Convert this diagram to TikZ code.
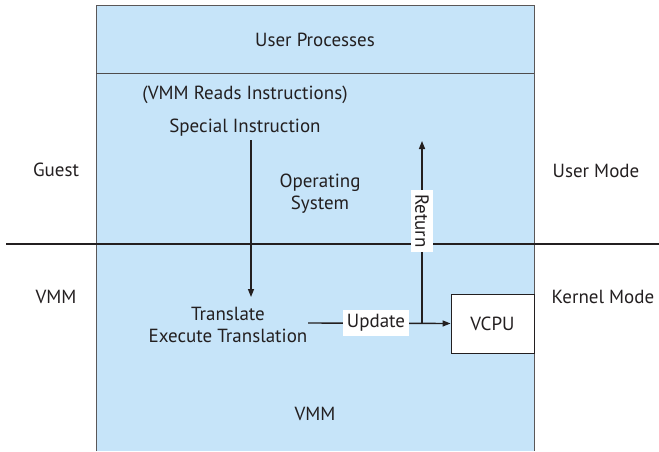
\documentclass[tikz,border=0pt]{standalone}
\usepackage{fontspec}
\setmainfont{PT Sans}
\usetikzlibrary{arrows.meta}
\definecolor{paneblue}{HTML}{C6E4F9}
\definecolor{ink}{HTML}{231F20}
\begin{document}
\begin{tikzpicture}[x=1pt,y=-1pt,
  lbl/.style={font=\fontsize{19}{22}\selectfont, text=ink, inner sep=0pt, align=center},
  tag/.style={lbl, fill=white, inner xsep=4pt, inner ysep=4pt},
  conn/.style={draw=ink, line width=1.4pt},
  arr/.style={conn, -{Triangle[length=8pt,width=6pt]}}]
\useasboundingbox (0,0) rectangle (659,452);
% main pane
\fill[paneblue] (96,5) rectangle (534,451);
\draw[draw=ink!75, line width=0.9pt] (96,451) -- (96,5) -- (534,5) -- (534,451);
\draw[draw=ink!80, line width=1pt] (96,74) -- (534,74);
% mode divider
\coordinate (divL) at (6,244);
\coordinate (divR) at (659,244);
\draw[conn] (divL) -- (divR);
% texts
\node[lbl] (up) at (315,40) {User Processes};
\node[lbl] (reads) at (245,95) {(VMM Reads Instructions)};
\node[lbl] (spec) at (245,128) {Special Instruction};
\node[lbl] (os) at (320,194) {Operating\\System};
\node[lbl] (guest) at (56,170) {Guest};
\node[lbl] (umode) at (596,171) {User Mode};
\node[lbl] (vmml) at (56,297) {VMM};
\node[lbl] (kmode) at (603,297) {Kernel Mode};
\node[lbl] (trans) at (228,325) {Translate\\Execute Translation};
\node[lbl] (vmmb) at (315,414) {VMM};
\node[lbl, draw=ink, line width=0.9pt, fill=white, minimum width=83pt, minimum height=59pt] (vcpu) at (492.5,323.5) {VCPU};
% connectors
\coordinate (dtop) at (251,140);
\coordinate (dbot) at (251,297);
\draw[arr] (dtop) -- (dbot);
\coordinate (upd) at (308,323);
\coordinate (junc) at (422,323);
\coordinate (rtop) at (422,141);
\draw[arr] (upd) -- (vcpu.west);
\draw[arr] (junc) -- (rtop);
\node[tag] (update) at (376,323) {Update};
\node[tag, rotate=-90] (ret) at (422,221) {Return};
\end{tikzpicture}
\end{document}
